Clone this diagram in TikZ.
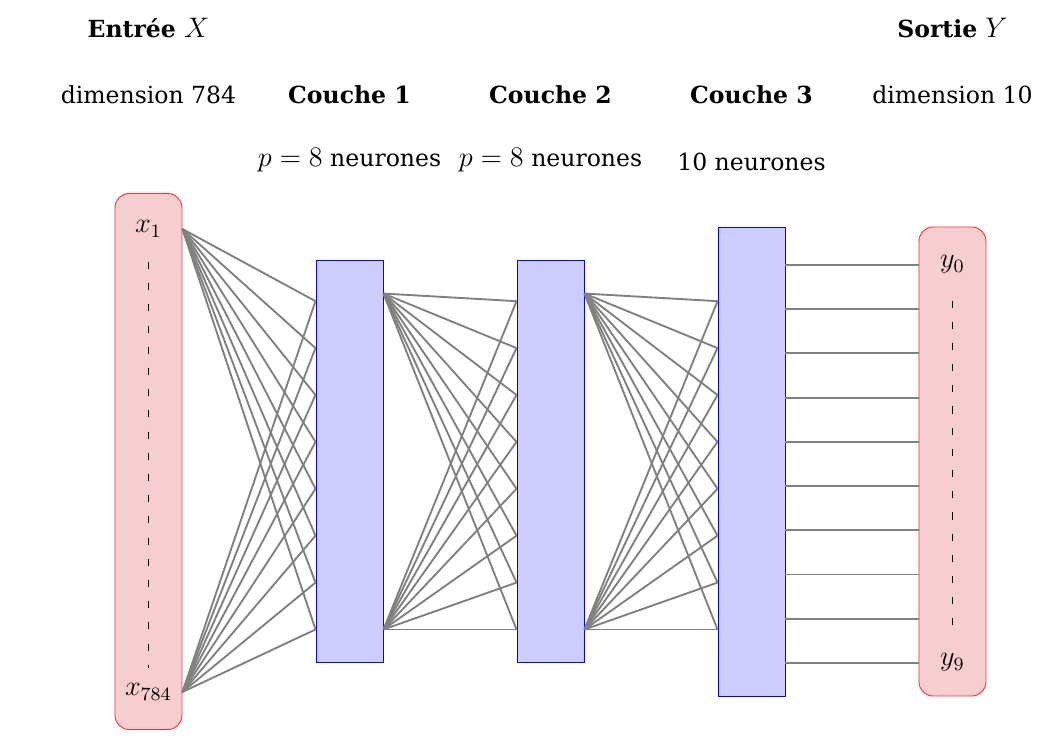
\documentclass[tikz,border=0pt]{standalone}
\usepackage{fontspec}
\setmainfont{DejaVu Serif}
\DeclareMathSizes{10}{12}{8.5}{6}
\usetikzlibrary{calc}
\definecolor{rose}{RGB}{247,206,208}
\tikzset{
  io/.style = {draw=red!80, fill=rose, rounded corners=6pt,
    minimum width=1cm},% entree ou sortie
  couche/.style = {draw=blue, fill=blue!20,
    minimum width=1cm},% couche de neurones
  lien/.style = {gray, thick},% connexion entre couches
  pointille/.style = {loosely dashed},
  titre/.style = {font=\bfseries}
}
\begin{document}
\begin{tikzpicture}
\useasboundingbox (-2.216,-4.157) rectangle (13.515,6.888);

% les boites
\node[io, minimum height=8cm] (x) at (0,0) {};
\node[couche, minimum height=6cm] (c1) at (3,0) {};
\node[couche, minimum height=6cm] (c2) at (6,0) {};
\node[couche, minimum height=7cm] (c3) at (9,0) {};
\node[io, minimum height=7cm] (y) at (12,0) {};

% les textes
\node[titre] (tx) at (0,6.47) {Entr\'ee $X$};
\node (dx) at (0,5.47) {dimension 784};
\node[titre] (t1) at (3,5.47) {Couche 1};
\node (n1) at (3,4.5) {$p=8$ neurones};
\node[titre] (t2) at (6,5.47) {Couche 2};
\node (n2) at (6,4.5) {$p=8$ neurones};
\node[titre] (t3) at (9,5.47) {Couche 3};
\node (n3) at (9,4.47) {10 neurones};
\node[titre] (ty) at (12,6.47) {Sortie $Y$};
\node (dy) at (12,5.47) {dimension 10};

\node (x1) at (0,3.47) {$x_1$};
\node (x784) at (0,-3.44) {$x_{784}$};
\node (y0) at (12,2.94) {$y_0$};
\node (y9) at (12,-3.0) {$y_9$};
\draw[pointille, shorten <=7pt, shorten >=3pt] (x1) -- (x784);
\draw[pointille, shorten <=8pt, shorten >=6pt] (y0) -- (y9);

% points d'accroche
\coordinate (xh) at (x1 -| x.east);
\coordinate (xb) at (x784 -| x.east);
\foreach \k in {0,...,7}{
  \coordinate (c1e\k) at ($(c1.south west)+(0,0.5+0.7*\k)$);
  \coordinate (c2e\k) at ($(c2.south west)+(0,0.5+0.7*\k)$);
  \coordinate (c3e\k) at ($(c3.south west)+(0,1+0.7*\k)$);
}
\coordinate (c1h) at ($(c1.north east)+(0,-0.5)$);
\coordinate (c1b) at ($(c1.south east)+(0,0.5)$);
\coordinate (c2h) at ($(c2.north east)+(0,-0.5)$);
\coordinate (c2b) at ($(c2.south east)+(0,0.5)$);

% connexions
\foreach \k in {0,...,7}{
  \draw[lien] (xh) -- (c1e\k);
  \draw[lien] (xb) -- (c1e\k);
  \draw[lien] (c1h) -- (c2e\k);
  \draw[lien] (c1b) -- (c2e\k);
  \draw[lien] (c2h) -- (c3e\k);
  \draw[lien] (c2b) -- (c3e\k);
}
\foreach \k in {0,...,9}{
  \coordinate (c3s\k) at ($(c3.south east)+(0,0.5+0.66*\k)$);
  \draw[lien] (c3s\k) -- (c3s\k -| y.west);
}
\end{tikzpicture}
\end{document}
